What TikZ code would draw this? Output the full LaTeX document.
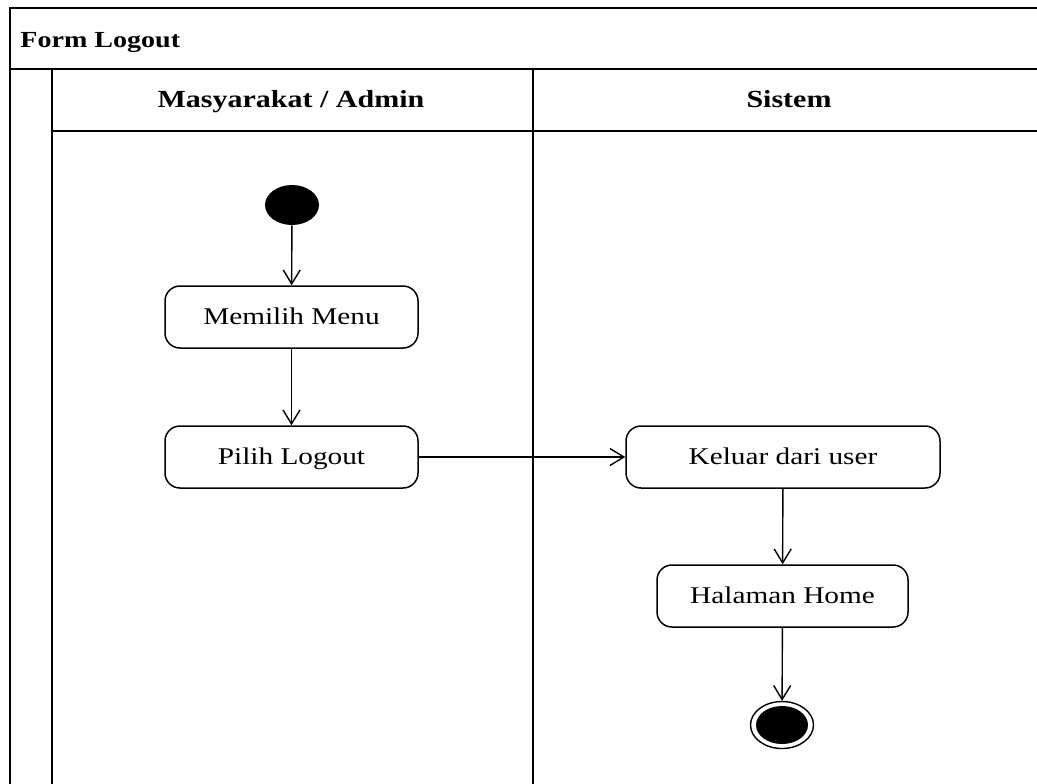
\documentclass[tikz,border=0pt]{standalone}
\usepackage{fontspec}
\setmainfont{Liberation Serif}
\newfontfamily\dfont[FakeStretch=1.22]{Liberation Serif}
\usetikzlibrary{shapes.geometric,arrows.meta}
\begin{document}
\begin{tikzpicture}[x=0.5pt,y=-0.5pt,
  lane/.style={line width=1pt},
  act/.style={draw,line width=0.75pt,rounded corners=7.5pt,minimum height=31pt,
    font=\dfont\fontsize{12}{14}\selectfont,inner sep=0pt,text height=7.9pt,text depth=0pt},
  hdr/.style={font=\dfont\fontsize{12.3}{14}\selectfont\bfseries,inner sep=0pt,anchor=base},
  arr/.style={line width=0.7pt,-{Straight Barb[length=7pt,width=8.5pt,line width=0.7pt]}}]
\useasboundingbox (0,0) rectangle (1037,783);
\clip (0,0) rectangle (1037,783);
% frame
\draw[lane] (10,795) -- (10,8) -- (1045,8);
\draw[lane] (10,69) -- (1045,69);
\draw[lane] (52,131) -- (1045,131);
\draw[lane] (52,69) -- (52,795);
\draw[lane] (533,69) -- (533,795);
\node[hdr,anchor=base west,font=\dfont\fontsize{11.5}{14}\selectfont\bfseries] (title) at (20,47) {Form Logout};
\node[hdr] (h1) at (291,107) {Masyarakat / Admin};
\node[hdr] (h2) at (789,107) {Sistem};
% nodes
\node[ellipse,fill=black,minimum width=27pt,minimum height=20pt,inner sep=0pt] (init) at (292,205) {};
\node[act,minimum width=126.5pt] (memilih) at (291.5,317) {Memilih Menu};
\node[act,minimum width=126.5pt] (pilih) at (291.5,457) {Pilih Logout};
\node[act,minimum width=157pt] (keluar) at (783,457) {Keluar dari user};
\node[act,minimum width=125.5pt] (home) at (782.5,596) {Halaman Home};
\node[ellipse,draw,line width=0.7pt,minimum width=31.5pt,minimum height=23.5pt,inner sep=0pt] (final) at (782,725) {};
\node[ellipse,fill=black,minimum width=26pt,minimum height=19pt,inner sep=0pt] (finalin) at (782,725) {};
% connectors
\draw[arr] (init) -- (memilih);
\draw[arr] (memilih) -- (pilih);
\draw[arr] (pilih.east) -- (keluar.west);
\draw[arr] (keluar) -- (home);
\draw[arr] (home) -- (final);
\end{tikzpicture}
\end{document}
